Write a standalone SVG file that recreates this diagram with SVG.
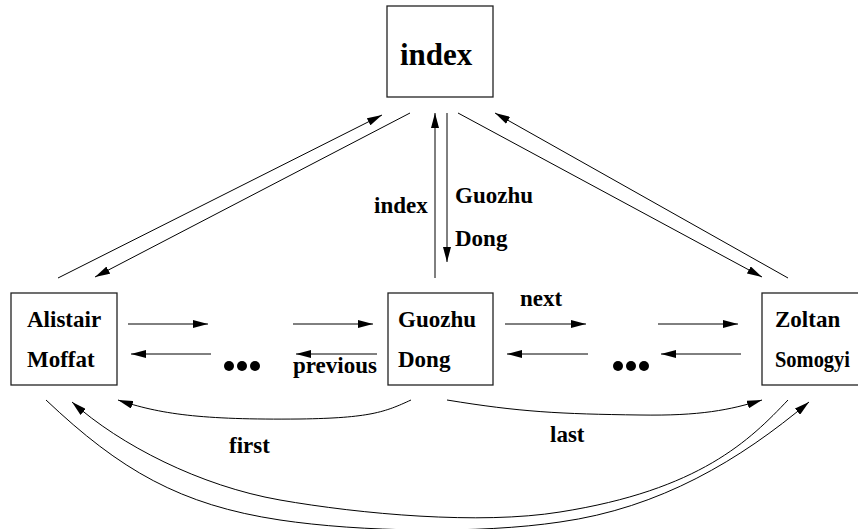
<svg xmlns="http://www.w3.org/2000/svg" width="858" height="529" viewBox="0 0 858 529">
<style>
.box{fill:#fff;stroke:#222;stroke-width:1.3}
.t{font-family:"Liberation Serif","Times New Roman",serif;font-weight:bold;font-size:23px;fill:#000}
.big{font-size:31px}
.c{fill:none;stroke:#000;stroke-width:1}
.a{marker-end:url(#ah)}
</style>
<defs>
<marker id="ah" markerWidth="15" markerHeight="8" refX="15" refY="4" orient="auto" markerUnits="userSpaceOnUse">
<path d="M0,0 L15,4 L0,8 z" fill="#000"/>
</marker>
</defs>
<rect width="858" height="529" fill="#fff"/>
<g id="connectors">
<line class="c a" x1="58" y1="278" x2="382" y2="115"/>
<line class="c a" x1="410" y1="113" x2="95" y2="277"/>
<line class="c a" x1="435" y1="278" x2="435" y2="113"/>
<line class="c a" x1="447" y1="113" x2="447" y2="262"/>
<line class="c a" x1="458" y1="113" x2="762" y2="277"/>
<line class="c a" x1="788" y1="278" x2="495" y2="113"/>
<line class="c a" x1="128" y1="324" x2="208" y2="324"/>
<line class="c a" x1="293" y1="324" x2="373" y2="324"/>
<line class="c a" x1="211" y1="354" x2="131" y2="354"/>
<line class="c a" x1="377" y1="354" x2="296" y2="354"/>
<line class="c a" x1="505" y1="324" x2="586" y2="324"/>
<line class="c a" x1="658" y1="324" x2="738" y2="324"/>
<line class="c a" x1="588" y1="354" x2="507" y2="354"/>
<line class="c a" x1="741" y1="354" x2="661" y2="354"/>
<path class="c a" d="M411,400 C385,412 370,418 300,419 C200,420 160,414 118,400"/>
<path class="c a" d="M447,400 C520,412 560,414 640,415 C700,416 730,410 762,400"/>
<path class="c a" d="M788,400 C750,440 700,490 560,512 C480,525 360,514 280,500 C200,486 120,445 72,402"/>
<path class="c a" d="M46,400 C120,470 180,505 280,520 C360,532 480,534 560,522 C660,508 740,460 809,402"/>
<circle cx="229" cy="366" r="5"/><circle cx="242" cy="366" r="5"/><circle cx="255" cy="366" r="5"/>
<circle cx="618" cy="366" r="5"/><circle cx="631" cy="366" r="5"/><circle cx="644" cy="366" r="5"/>
<text class="t" x="374" y="213">index</text>
<text class="t" x="455" y="203">Guozhu</text>
<text class="t" x="455" y="246">Dong</text>
<text class="t" x="520" y="306">next</text>
<text class="t" x="293" y="373">previous</text>
<text class="t" x="229" y="453">first</text>
<text class="t" x="550" y="442">last</text>
</g>
<g id="index">
<rect class="box" x="387" y="6" width="106" height="91"/>
<text class="t big" x="400" y="65">index</text>
</g>
<g id="alistair">
<rect class="box" x="11" y="293" width="106" height="92"/>
<text class="t" x="27" y="327">Alistair</text>
<text class="t" x="27" y="367">Moffat</text>
</g>
<g id="guozhu">
<rect class="box" x="388" y="293" width="105" height="92"/>
<text class="t" x="398" y="327">Guozhu</text>
<text class="t" x="398" y="367">Dong</text>
</g>
<g id="zoltan">
<rect class="box" x="762" y="293" width="120" height="92"/>
<text class="t" x="775" y="327">Zoltan</text>
<text class="t" x="775" y="367" textLength="75" lengthAdjust="spacingAndGlyphs">Somogyi</text>
</g>
</svg>
